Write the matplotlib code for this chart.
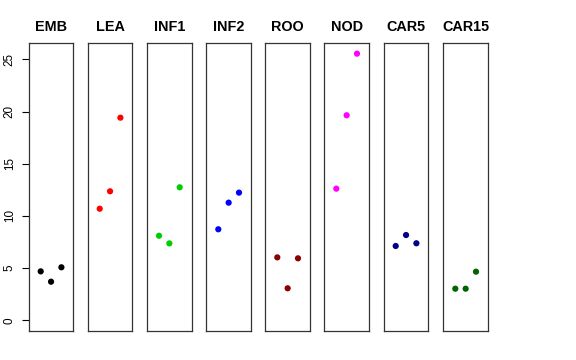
import matplotlib
matplotlib.use("Agg")
import matplotlib.pyplot as plt

plt.rcParams['font.family'] = ['Liberation Sans', 'DejaVu Sans']

tissues = ["EMB", "LEA", "INF1", "INF2", "ROO", "NOD", "CAR5", "CAR15"]
colors = ["#000000", "#FF0000", "#00CD00", "#0000FF", "#8B0000", "#FF00FF", "#00008B", "#006400"]
emb = [4.69, 3.70, 5.08]
lea = [10.69, 12.36, 19.41]
inf1 = [8.10, 7.37, 12.74]
inf2 = [8.72, 11.27, 12.23]
roo = [6.03, 3.07, 5.94]
nod = [12.61, 19.64, 25.54]
car5 = [7.12, 8.17, 7.38]
car15 = [3.03, 3.03, 4.66]
values = [emb, lea, inf1, inf2, roo, nod, car5, car15]
yticks = [0, 5, 10, 15, 20, 25]

W, H = 576, 360
fig = plt.figure(figsize=(W / 100, H / 100), dpi=100)

lefts = [28.7, 87.7, 147.0, 206.3, 265.3, 324.3, 383.7, 443.3]
pw = 44.7
top_px, bot_px = 43.0, 331.0
ymax = max(max(v) for v in values)
yr = ymax - 0
ylim = (0 - 0.04 * yr, ymax + 0.04 * yr)
xlim = (0 - 0.16, 4 + 0.16)

for i, (name, col, vals) in enumerate(zip(tissues, colors, values)):
    ax = fig.add_axes([lefts[i] / W, (H - bot_px) / H, pw / W, (bot_px - top_px) / H])
    xs = list(range(1, len(vals) + 1))
    ax.scatter(xs, vals, s=20, color=col, edgecolors='none', zorder=3)
    ax.set_xlim(*xlim)
    ax.set_ylim(*ylim)
    ax.set_xticks([])
    ax.set_title(name, fontsize=10.4, fontweight='bold', pad=8.5)
    for sp in ax.spines.values():
        sp.set_linewidth(0.9)
        sp.set_color('#333333')
    if i == 0:
        ax.set_yticks(yticks)
        ax.set_yticklabels([str(t) for t in yticks], rotation=90, va='center', fontsize=8.4)
        ax.tick_params(axis='y', length=5.3, width=0.8, pad=4)
    else:
        ax.set_yticks([])

fig.savefig("out.png", dpi=100)
